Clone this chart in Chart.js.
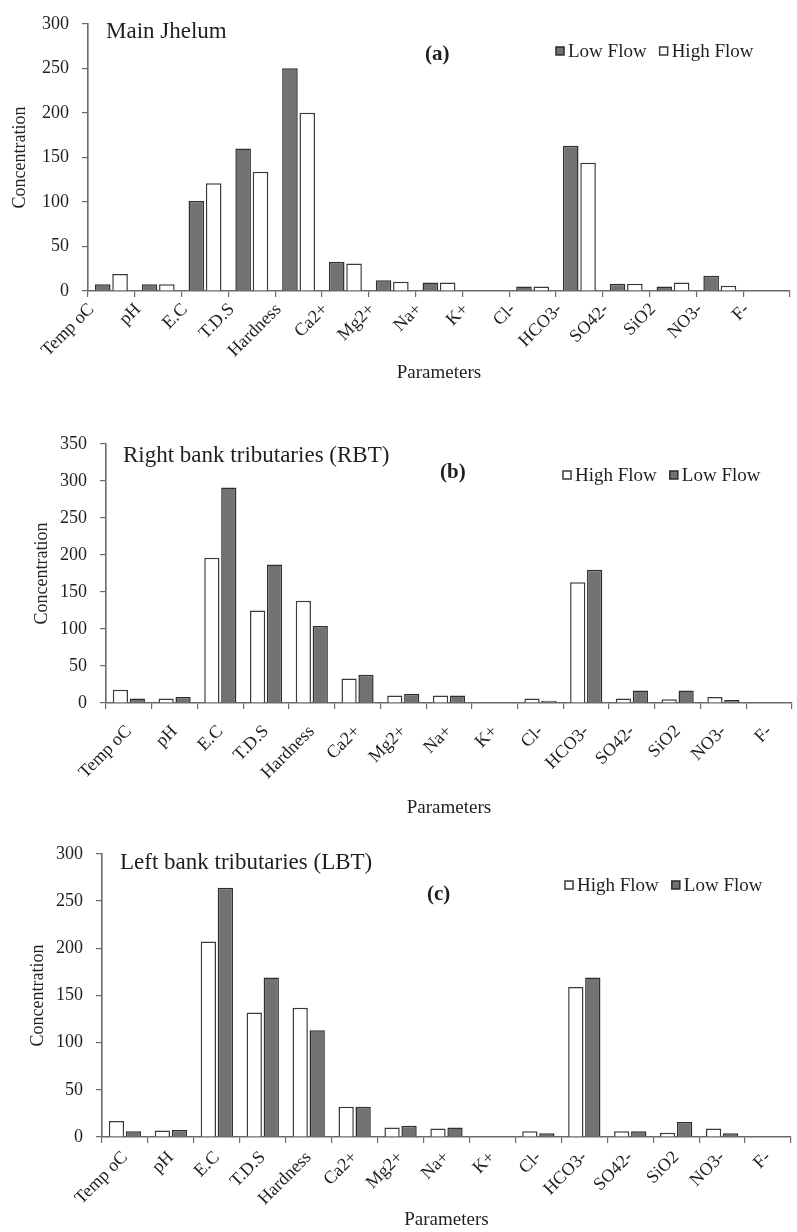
<!DOCTYPE html>
<html>
<head>
<meta charset="utf-8">
<script src="https://cdn.jsdelivr.net/npm/chart.js@4.4.1/dist/chart.umd.min.js"></script>
<style>
  html, body { margin: 0; padding: 0; background: #ffffff; }
  body { width: 797px; height: 1232px; position: relative; overflow: hidden; }
  canvas { position: absolute; left: 0; }
</style>
</head>
<body>
<canvas id="chartA" width="797" height="400" style="top:0px"></canvas>
<canvas id="chartB" width="797" height="400" style="top:420px"></canvas>
<canvas id="chartC" width="797" height="402" style="top:830px"></canvas>
<script>
// Water-quality parameters shared by all three panels
const parameters = ['Temp oC', 'pH', 'E.C', 'T.D.S', 'Hardness', 'Ca2+', 'Mg2+', 'Na+', 'K+', 'Cl-', 'HCO3-', 'SO42-', 'SiO2', 'NO3-', 'F-'];

// (a) Main Jhelum
const jhelumLow  = [7.5, 7.5, 101, 160, 250, 32.5, 12, 9.5, 0, 5, 163, 8, 5, 17, 0];
const jhelumHigh = [19, 7.5, 121, 134, 200, 31, 10.5, 9.5, 0, 5, 144, 8, 9.5, 6, 0];

// (b) Right bank tributaries
const rbtHigh = [18, 6, 196, 125, 138, 33, 10, 10, 0, 6, 163, 6, 5, 8, 0];
const rbtLow  = [6, 8, 291, 187, 104, 38, 12, 10, 0, 3, 180, 17, 17, 4, 0];

// (c) Left bank tributaries
const lbtHigh = [17, 7, 207, 132, 137, 32, 10, 9, 0, 6, 159, 6, 4.5, 9, 0];
const lbtLow  = [6, 7.5, 264, 169, 113, 32, 12, 10, 0, 4, 169, 6, 16, 4, 0];

const yMaxA = 300, yMaxB = 350, yMaxC = 300;

const SERIF = '"Liberation Serif", "Times New Roman", serif';
const INK = '#1f1f1f';
const AXIS = '#6a6a6a';

const lowStyle  = { backgroundColor: '#727272', borderColor: '#2e2e2e' };
const highStyle = { backgroundColor: '#ffffff', borderColor: '#3a3a3a' };

// Draws the panel caption, the bold panel tag and a compact legend row
const panelText = {
  id: 'panelText',
  afterDraw(chart, args, o) {
    const ctx = chart.ctx;
    ctx.save();
    ctx.textBaseline = 'middle';
    ctx.textAlign = 'left';
    ctx.fillStyle = INK;
    ctx.font = '23px ' + SERIF;
    ctx.fillText(o.name, o.nameX, o.nameY);
    ctx.font = 'bold 21px ' + SERIF;
    ctx.fillText(o.tag, o.tagX, o.tagY);

    let x = o.legendX;
    ctx.font = '19px ' + SERIF;
    chart.data.datasets.forEach(ds => {
      ctx.fillStyle = ds.backgroundColor;
      ctx.strokeStyle = ds.borderColor;
      ctx.lineWidth = 1.5;
      ctx.fillRect(x, o.legendY - 4, 8, 8);
      ctx.strokeRect(x, o.legendY - 4, 8, 8);
      x += 12;
      ctx.fillStyle = INK;
      ctx.fillText(ds.label, x, o.legendY + 1);
      x += ctx.measureText(ds.label).width + 13;
    });
    ctx.restore();
  }
};

function makeChart(id, series, yMax, geo, text) {
  return new Chart(document.getElementById(id), {
    type: 'bar',
    data: {
      labels: parameters,
      datasets: series.map(s => ({
        label: s.label,
        data: s.data,
        backgroundColor: s.style.backgroundColor,
        borderColor: s.style.borderColor,
        borderWidth: 1.5,
        categoryPercentage: 0.74,
        barPercentage: 0.9
      }))
    },
    options: {
      responsive: false,
      animation: false,
      devicePixelRatio: 1,
      layout: { padding: { top: geo.top, right: geo.right, left: 0, bottom: 0 } },
      plugins: {
        legend: { display: false },
        tooltip: { enabled: false },
        panelText: text
      },
      scales: {
        x: {
          offset: true,
          grid: { display: true, drawOnChartArea: false, drawTicks: true, tickLength: 6, color: AXIS, lineWidth: 1.2, offset: true },
          border: { display: true, color: AXIS, width: 1.6 },
          ticks: {
            autoSkip: false, minRotation: 45, maxRotation: 45,
            padding: geo.xPad,
            labelOffset: geo.xShift,
            color: INK,
            font: { family: SERIF, size: 18 }
          },
          title: {
            display: true, text: 'Parameters', color: INK,
            font: { family: SERIF, size: 19 },
            padding: { top: 0, bottom: geo.xTitlePad }
          },
          afterFit(scale) { scale.height = geo.xHeight; }
        },
        y: {
          min: 0, max: yMax,
          grid: { display: true, drawOnChartArea: false, drawTicks: true, tickLength: 6, color: AXIS, lineWidth: 1.2 },
          border: { display: true, color: AXIS, width: 1.6 },
          ticks: {
            stepSize: 50, padding: 13, color: INK,
            font: { family: SERIF, size: 18 }
          },
          title: {
            display: true, text: 'Concentration', color: INK,
            font: { family: SERIF, size: 18 },
            padding: { top: geo.yTitlePad, bottom: 0 }
          },
          afterFit(scale) { scale.width = geo.left; }
        }
      }
    },
    plugins: [panelText]
  });
}

makeChart('chartA',
  [{ label: 'Low Flow', data: jhelumLow, style: lowStyle },
   { label: 'High Flow', data: jhelumHigh, style: highStyle }],
  yMaxA,
  { top: 17, right: 7, left: 88, xHeight: 109, xPad: 2, xShift: -20, xTitlePad: 16, yTitlePad: 9 },
  { name: 'Main Jhelum', nameX: 106, nameY: 32, tag: '(a)', tagX: 425, tagY: 55, legendX: 556, legendY: 51 });

makeChart('chartB',
  [{ label: 'High Flow', data: rbtHigh, style: highStyle },
   { label: 'Low Flow', data: rbtLow, style: lowStyle }],
  yMaxB,
  { top: 23, right: 5, left: 106, xHeight: 117, xPad: 12, xShift: 0, xTitlePad: 1, yTitlePad: 31 },
  { name: 'Right bank tributaries (RBT)', nameX: 123, nameY: 36, tag: '(b)', tagX: 440, tagY: 53, legendX: 563, legendY: 55 });

makeChart('chartC',
  [{ label: 'High Flow', data: lbtHigh, style: highStyle },
   { label: 'Low Flow', data: lbtLow, style: lowStyle }],
  yMaxC,
  { top: 19, right: 6, left: 102, xHeight: 95, xPad: 4, xShift: 0, xTitlePad: 1, yTitlePad: 27 },
  { name: 'Left bank tributaries (LBT)', nameX: 120, nameY: 33, tag: '(c)', tagX: 427, tagY: 65, legendX: 565, legendY: 55 });
</script>
</body>
</html>
